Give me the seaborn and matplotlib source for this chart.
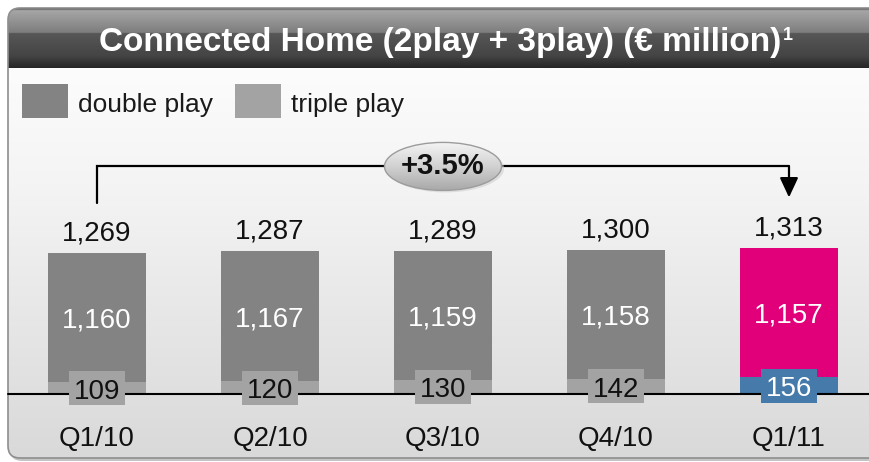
import numpy as np
import matplotlib
matplotlib.use('Agg')
import matplotlib.pyplot as plt
import seaborn as sns
from matplotlib.patches import FancyBboxPatch, Rectangle, Ellipse
from matplotlib.colors import to_rgb

# data
quarters = ['Q1/10', 'Q2/10', 'Q3/10', 'Q4/10', 'Q1/11']
double_play = [1160, 1167, 1159, 1158, 1157]
triple_play = [109, 120, 130, 142, 156]
totals = [1269, 1287, 1289, 1300, 1313]
growth = '+3.5%'
legend_names = ['double play', 'triple play']
title = 'Connected Home (2play + 3play) (€ million)'

# colours
grey_dark = '#838383'
grey_light = '#a3a3a3'
magenta = '#e2007a'
blue = '#467aaa'
top_colors = [grey_dark] * 4 + [magenta]
bottom_colors = [grey_light] * 4 + [blue]

plain = ['Liberation Sans', 'DejaVu Sans']

sns.set_theme(style='white')
plt.rcParams['font.family'] = plain

W, H = 869, 462
fig = plt.figure(figsize=(W / 100, H / 100), dpi=100, facecolor='white')

# ---- background frame, drawn in pixel coords
bg = fig.add_axes([0, 0, 1, 1], zorder=0)
bg.set_xlim(0, W)
bg.set_ylim(H, 0)
bg.axis('off')


def vgrad(stops, n=200):
    '''vertical gradient image from (pos, colour) stops'''
    pos = np.linspace(0, 1, n)
    cols = np.array([to_rgb(c) for _, c in stops])
    ps = [p for p, _ in stops]
    img = np.stack([np.interp(pos, ps, cols[:, k]) for k in range(3)], axis=-1)
    return img[:, None, :]


shadow = FancyBboxPatch((10, 11), 880, 450, boxstyle='round,pad=0,rounding_size=12',
                        facecolor='#c4c4c4', edgecolor='none', zorder=0)
bg.add_patch(shadow)
frame = FancyBboxPatch((8, 8), 880, 450, boxstyle='round,pad=0,rounding_size=12',
                       facecolor='none', edgecolor='#8e8e8e', lw=1.2, zorder=3)
bg.add_patch(frame)

body = bg.imshow(vgrad([(0, '#fcfcfc'), (0.3, '#f4f4f4'), (1, '#d9d9d9')]),
                 extent=(8, 888, 458, 68), aspect='auto', zorder=1)
body.set_clip_path(frame)
head = bg.imshow(vgrad([(0, '#3c3c3c'), (0.04, '#a6a6a6'), (0.41, '#7d7d7d'),
                        (0.42, '#575757'), (0.8, '#444444'), (1, '#262626')]),
                 extent=(8, 888, 68, 8), aspect='auto', zorder=2)
head.set_clip_path(frame)

t = bg.text(440, 42, title, color='white', fontsize=24, fontweight='bold',
            ha='center', va='center', zorder=5)

# legend
for k, (name, col) in enumerate(zip(legend_names, [grey_dark, grey_light])):
    x0 = 22 + k * 213
    bg.add_patch(Rectangle((x0, 84), 46, 34, facecolor=col, edgecolor='none', zorder=4))
    bg.text(x0 + 56, 112, name, fontsize=19, color='#1a1a1a', va='baseline', zorder=4)

# ---- bars
U = 9.0  # data units per pixel
ax = fig.add_axes([0, 0, 1, 1], facecolor='none', zorder=1)
sns.barplot(x=quarters, y=totals, hue=quarters, palette=top_colors, width=0.568,
            saturation=1, errorbar=None, legend=False, ax=ax, zorder=2)
sns.barplot(x=quarters, y=triple_play, hue=quarters, palette=bottom_colors, width=0.568,
            saturation=1, errorbar=None, legend=False, ax=ax, zorder=2)
for p in ax.patches:
    p.set_edgecolor('none')

ax.axhline(0, xmin=8 / W, xmax=1, color='black', lw=1.5, zorder=3)

fs = 20
for i in range(len(quarters)):
    # total on top
    ax.annotate(f'{totals[i]:,}', (i, totals[i]), xytext=(0, 9.1), textcoords='offset points',
                ha='center', va='baseline', fontsize=fs, color='#111111')
    # double play inside
    mid = triple_play[i] + double_play[i] / 2
    ax.annotate(f'{double_play[i]:,}', (i, mid), xytext=(0, -7.2), textcoords='offset points',
                ha='center', va='baseline', fontsize=fs, color='white')
    # triple play box
    c = triple_play[i] / 2
    bh = 34 * U
    ax.add_patch(Rectangle((i - 0.159, c - bh / 2), 0.318, bh, facecolor=bottom_colors[i],
                           edgecolor='none', zorder=4))
    ax.annotate(f'{triple_play[i]:,}', (i, c), xytext=(0, -7.5), textcoords='offset points',
                ha='center', va='baseline', fontsize=fs, zorder=5,
                color='white' if i == len(quarters) - 1 else '#111111')
    # quarter label
    ax.annotate(quarters[i], (i, 0), xytext=(0, -37), textcoords='offset points',
                ha='center', va='baseline', fontsize=20, color='#111111')

# growth bracket
line_y = totals[-1] + 82 * U
left_end = totals[0] + 50 * U
tip = totals[-1] + 51 * U
ax.plot([0, 0, 4], [left_end, line_y, line_y], color='black', lw=1.6, zorder=3,
        solid_joinstyle='miter')
ax.annotate('', xy=(4, tip), xytext=(4, line_y),
            arrowprops=dict(arrowstyle='-|>,head_length=0.6,head_width=0.28',
                            color='black', lw=1.6, mutation_scale=20, shrinkA=0, shrinkB=0),
            zorder=3)
ew, eh = 117 / 173, 48 * U
ax.add_patch(Ellipse((2.015, line_y - 2 * U), ew, eh, facecolor='#cfcfcf', edgecolor='none',
                     alpha=0.6, zorder=4))
ell = Ellipse((2, line_y), ew, eh, facecolor='none', edgecolor='#9c9c9c', lw=1.0, zorder=6)
ax.add_patch(ell)
eimg = ax.imshow(vgrad([(0, '#f4f4f4'), (0.5, '#d2d2d2'), (1, '#a9a9a9')]),
                 extent=(2 - ew / 2, 2 + ew / 2, line_y - eh / 2, line_y + eh / 2),
                 aspect='auto', origin='upper', zorder=5)
eimg.set_clip_path(ell)
ax.text(2, line_y, growth, ha='center', va='center', fontsize=21, fontweight='bold',
        color='#111111', zorder=7)

ax.set_xlim(-97 / 173, (W - 97) / 173)
ax.set_ylim(-(H - 394.3) * U, 394.3 * U)
ax.axis('off')

# superscript after the title
fig.canvas.draw()
bb = t.get_window_extent()
bg.text(bb.x1 + 2, H - bb.y1, '1', color='white', fontsize=13, fontweight='bold',
        va='top', ha='left', zorder=5)

fig.savefig('out.png', dpi=100, facecolor='white')
